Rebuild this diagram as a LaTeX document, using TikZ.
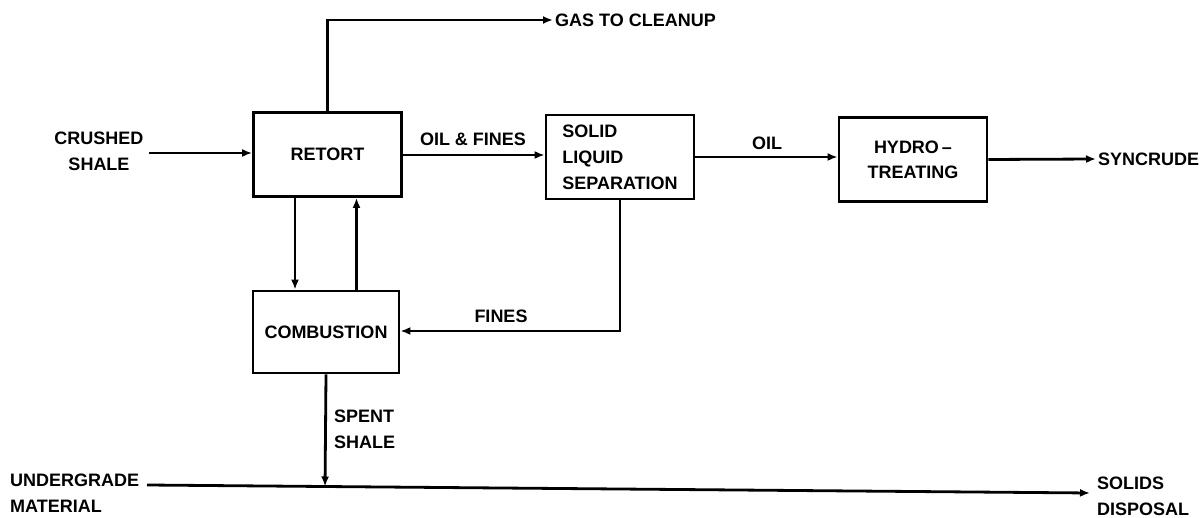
\documentclass[tikz,border=0pt]{standalone}
\usepackage{fontspec}
\setmainfont{Liberation Sans}
\usetikzlibrary{arrows.meta,calc}
\begin{document}
\begin{tikzpicture}[x=1pt,y=-1pt,
  every node/.style={font=\bfseries\fontsize{18}{26}\selectfont, inner sep=2pt},
  box/.style={draw, line width=2.8pt, minimum width=148pt, minimum height=84pt},
  lbl/.style={align=left},
  arr/.style={line width=2.8pt, -{Latex[length=10pt,width=8pt]}}]
\useasboundingbox (0,0) rectangle (1200,518);
% boxes
\node[box] (retort) at (327.5,154.5) {RETORT};
\node[box, align=left] (sls) at (620,157) {SOLID\\LIQUID\\SEPARATION};
\node[box, minimum width=148pt, align=center] (hydro) at (913,159.5) {HYDRO\,–\\[-1pt]TREATING};
\node[box, minimum width=146pt, minimum height=82pt] (comb) at (326,332) {COMBUSTION};
% labels
\node[align=center] (crushed) at (99,151) {CRUSHED\\SHALE};
\node[anchor=west] (gas) at (553,20) {GAS TO CLEANUP};
\node (oilfines) at (473,139) {OIL \& FINES};
\node (oil) at (767,143) {OIL};
\node[anchor=west] (syncrude) at (1096,159) {SYNCRUDE};
\node (fines) at (501,316) {FINES};
\node[lbl, anchor=west] (spent) at (332,429) {SPENT\\SHALE};
\node[lbl, anchor=west] (under) at (8,493) {UNDERGRADE\\MATERIAL};
\node[lbl, anchor=west] (solids) at (1095,496) {SOLIDS\\DISPOSAL};
\coordinate (u0) at (147,485);
\coordinate (u1) at (1090,493);
% connectors
\draw[arr] (149,153) coordinate (c0) -- (c0 -| retort.west);
\draw[arr] (retort.north) |- (gas.west);
\draw[arr] (retort.east |- 0,155) coordinate (r1) -- (r1 -| sls.west);
\draw[arr] (sls.east) -- (sls.east -| hydro.west);
\draw[arr] (hydro.east) -- (syncrude.west);
\draw[arr] ([xshift=-32.5pt]retort.south) coordinate (d0) -- (d0 |- comb.north);
\draw[arr] ([xshift=30.5pt]comb.north) coordinate (d1) -- (d1 |- retort.south);
\draw[arr] (sls.south) |- ([yshift=1pt]comb.east);
\draw[arr] (comb.south) -- ($(u0)!(comb.south)!(u1)$);
\draw[arr] (u0) -- (u1);
\end{tikzpicture}
\end{document}
